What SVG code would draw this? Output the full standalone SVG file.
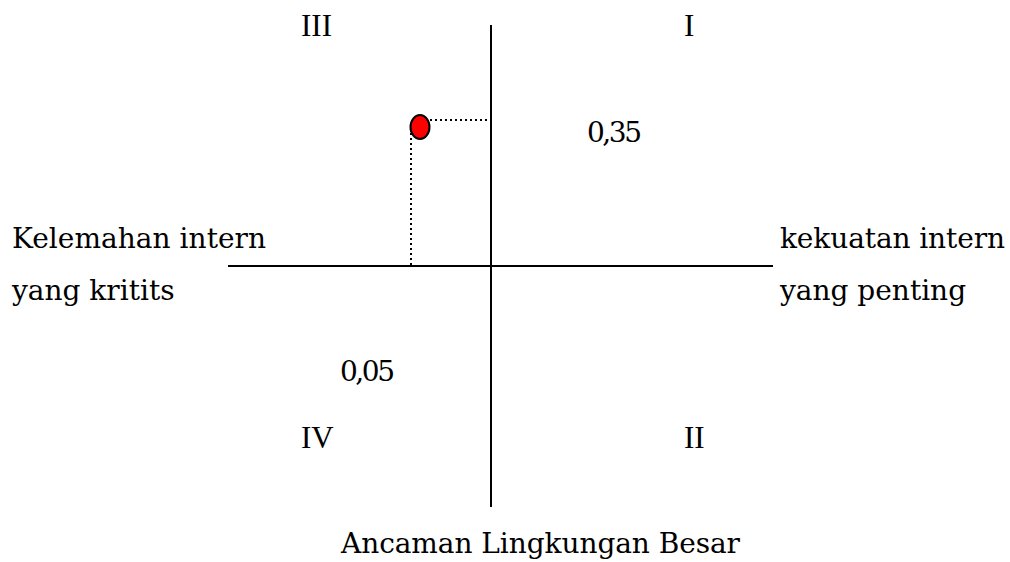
<svg xmlns="http://www.w3.org/2000/svg" width="1010" height="562" viewBox="0 0 1010 562">
  <style>
    .t { font-family: "DejaVu Serif", "Liberation Serif", serif; font-size: 28px; fill: #000; }
    .r { font-family: "Liberation Serif", "Times New Roman", serif; font-size: 31px; fill: #000; }
    .ax { stroke: #000; stroke-width: 2; fill: none; }
    .dot { stroke: #000; stroke-width: 2; stroke-dasharray: 2 3; fill: none; }
  </style>
  <rect width="1010" height="562" fill="#fff"/>
  <g id="connectors">
    <line class="ax" x1="491" y1="25" x2="491" y2="507"/>
    <line class="ax" x1="228" y1="266" x2="773" y2="266"/>
    <line class="dot" x1="430" y1="120" x2="488" y2="120"/>
    <line class="dot" x1="411" y1="133" x2="411" y2="265"/>
  </g>
  <g id="point">
    <ellipse cx="420" cy="127" rx="9.5" ry="12" fill="#ff0000" stroke="#000" stroke-width="2"/>
  </g>
  <g id="quadrant-III"><text class="r" x="301" y="36">III</text></g>
  <g id="quadrant-I"><text class="r" x="684" y="36">I</text></g>
  <g id="quadrant-IV"><text class="r" x="301" y="448">IV</text></g>
  <g id="quadrant-II"><text class="r" x="684" y="448">II</text></g>
  <g id="value-035"><text class="t" x="587" y="142" textLength="55">0,35</text></g>
  <g id="value-005"><text class="t" x="340" y="381" textLength="55">0,05</text></g>
  <g id="label-left">
    <text class="t" x="12" y="248" textLength="254">Kelemahan intern</text>
    <text class="t" x="12" y="300">yang kritits</text>
  </g>
  <g id="label-right">
    <text class="t" x="780" y="248" textLength="225">kekuatan intern</text>
    <text class="t" x="780" y="300">yang penting</text>
  </g>
  <g id="label-bottom">
    <text class="t" x="341" y="553" textLength="399">Ancaman Lingkungan Besar</text>
  </g>
</svg>
